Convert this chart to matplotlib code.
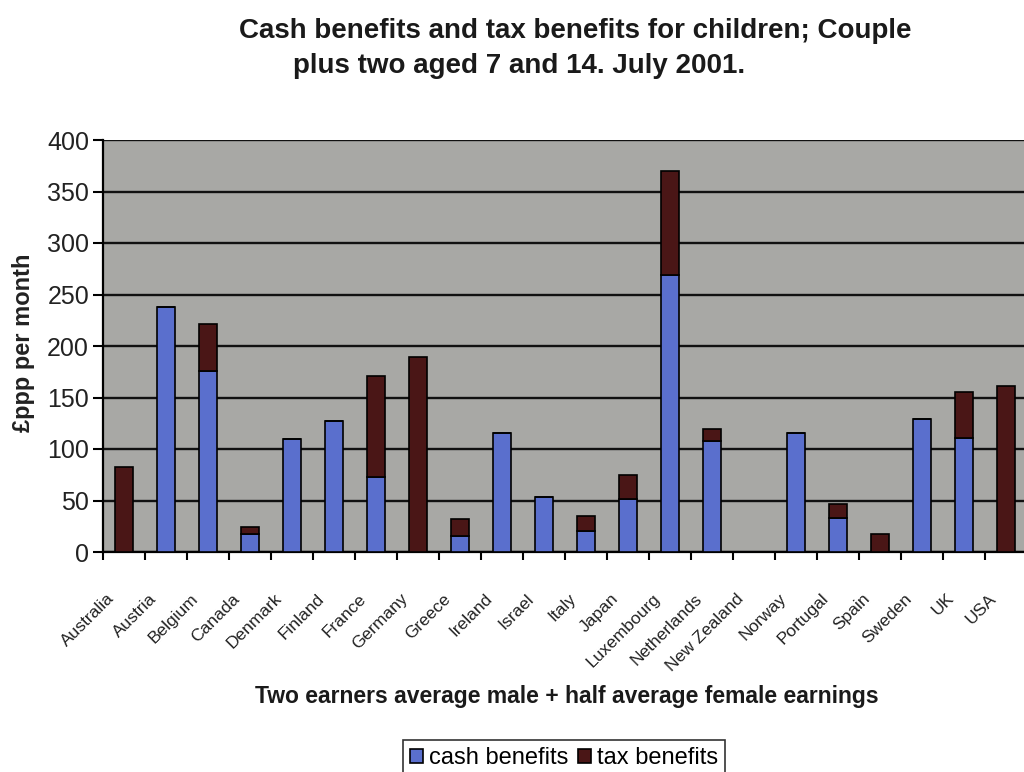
import matplotlib.pyplot as plt
import numpy as np

countries = ['Australia', 'Austria', 'Belgium', 'Canada', 'Denmark', 'Finland',
             'France', 'Germany', 'Greece', 'Ireland', 'Israel', 'Italy', 'Japan',
             'Luxembourg', 'Netherlands', 'New Zealand', 'Norway', 'Portugal',
             'Spain', 'Sweden', 'UK', 'USA']
cash = [0, 238, 176, 17, 110, 127, 73, 0, 16, 116, 53, 20, 51,
        269, 108, 0, 116, 33, 0, 129, 111, 0]
tax = [83, 0, 45, 7, 0, 0, 98, 189, 16, 0, 0, 15, 24,
       101, 11, 0, 0, 14, 17, 0, 44, 161]
yticks = [0, 50, 100, 150, 200, 250, 300, 350, 400]

plt.rcParams['font.family'] = ['Liberation Sans', 'DejaVu Sans']

fig = plt.figure(figsize=(10.24, 7.72), dpi=100)
ax = fig.add_axes([103 / 1024, 1 - 552 / 772, 924 / 1024, 412 / 772])

x = np.arange(len(countries))
ax.set_facecolor('#a8a8a5')
ax.bar(x, cash, width=0.42, color='#5a6fcd', edgecolor='black', linewidth=1.2,
       label='cash benefits', zorder=3)
ax.bar(x, tax, width=0.42, bottom=cash, color='#4a1616', edgecolor='black',
       linewidth=1.2, label='tax benefits', zorder=3)

ax.set_ylim(0, 400)
ax.set_xlim(-0.5, len(countries) - 0.5)
ax.set_yticks(yticks)
ax.set_yticklabels([str(v) for v in yticks], fontsize=18, color='#222222')
ax.grid(axis='y', color='#111111', linewidth=1.7, zorder=1)
ax.set_axisbelow(True)

# ticks between categories; the slanted labels end a bit left of each bar
ax.set_xticks(np.arange(-0.5, len(countries), 1.0))
ax.set_xticklabels([])
ax.set_xticks(x - 0.42, minor=True)
ax.set_xticklabels(countries, minor=True, rotation=45, ha='right',
                   rotation_mode='anchor', fontsize=12.5, color='#222222')
ax.tick_params(axis='x', which='minor', length=0, pad=28)
ax.tick_params(axis='x', which='major', length=6, width=1.5, direction='out')
ax.tick_params(axis='y', length=7, width=1.5, direction='out', pad=3)
for s in ['top', 'right']:
    ax.spines[s].set_visible(False)
ax.spines['left'].set_linewidth(1.6)
ax.spines['bottom'].set_linewidth(1.6)

ax.set_ylabel('£ppp per month', fontsize=17, fontweight='bold', color='#222222')
ax.yaxis.set_label_coords(-68 / 924, 0.5 + (552 - 343 - 206) / 412)

fig.text(575 / 1024, 1 - 31 / 772, 'Cash benefits and tax benefits for children; Couple',
         ha='center', va='center', fontsize=20, fontweight='bold', color='#1a1a1a')
fig.text(519 / 1024, 1 - 66 / 772, 'plus two aged 7 and 14. July 2001.',
         ha='center', va='center', fontsize=20, fontweight='bold', color='#1a1a1a')
fig.text(567 / 1024, 1 - 697 / 772,
         'Two earners average male + half average female earnings',
         ha='center', va='center', fontsize=16.5, fontweight='bold', color='#1a1a1a')

leg = fig.legend(loc='center', bbox_to_anchor=(564 / 1024, 1 - 758 / 772), ncol=2,
                 fontsize=17, frameon=True, fancybox=False, edgecolor='black',
                 handlelength=0.55, handleheight=0.55, handletextpad=0.25,
                 columnspacing=0.4, borderpad=0.3)
leg.get_frame().set_linewidth(1.2)

fig.savefig('out.png', dpi=100)
